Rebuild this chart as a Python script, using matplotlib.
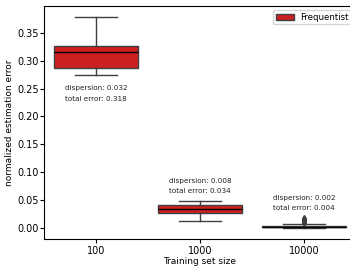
import matplotlib.pyplot as plt
from matplotlib.patches import Patch

# training set sizes and box statistics
sizes = ['100', '1000', '10000']
q1 = [0.287, 0.0275, 0.001]
med = [0.315, 0.034, 0.002]
q3 = [0.327, 0.0407, 0.004]
whislo = [0.274, 0.0125, 0.0003]
whishi = [0.379, 0.048, 0.0078]
fliers = [[], [], [0.009, 0.0105, 0.012, 0.0135, 0.015, 0.0165, 0.018]]
dispersion = [0.032, 0.008, 0.002]
total_error = [0.318, 0.034, 0.004]
text_y = [0.251, 0.085, 0.054]

red = '#cd2121'
edge = '#3f3f3f'

stats = []
for i in range(len(sizes)):
    stats.append(dict(q1=q1[i], med=med[i], q3=q3[i], whislo=whislo[i],
                      whishi=whishi[i], fliers=fliers[i], label=sizes[i]))

fig = plt.figure(figsize=(3.5, 2.69), dpi=100)
ax = fig.add_axes([0.126, 0.1115, 0.891, 0.8665])
ax.bxp(stats, positions=range(len(sizes)), widths=0.8, patch_artist=True,
       boxprops=dict(facecolor=red, edgecolor=edge, linewidth=1),
       medianprops=dict(color='black', linewidth=1),
       whiskerprops=dict(color=edge, linewidth=1),
       capprops=dict(color=edge, linewidth=1),
       flierprops=dict(marker='d', markersize=3, markerfacecolor=edge,
                       markeredgecolor=edge))

for i in range(len(sizes)):
    ax.text(i, text_y[i], 'dispersion: %.3f' % dispersion[i],
            ha='center', va='center', fontsize=5.2, color='#222222')
    ax.text(i, text_y[i] - 0.019, 'total error: %.3f' % total_error[i],
            ha='center', va='center', fontsize=5.2, color='#222222')

ax.set_xlim(-0.5, 2.5)
ax.set_ylim(-0.0197, 0.398)
ax.set_yticks([0.0, 0.05, 0.10, 0.15, 0.20, 0.25, 0.30, 0.35])
ax.set_yticklabels(['%.2f' % v for v in ax.get_yticks()])
ax.tick_params(labelsize=7, length=3, width=0.8, pad=1)
ax.tick_params(axis='x', pad=2)
ax.set_xlabel('Training set size', fontsize=6.5, labelpad=1)
ax.set_ylabel('normalized estimation error', fontsize=6.5, labelpad=2)

ax.legend(handles=[Patch(facecolor=red, edgecolor=edge, label='Frequentist')],
          loc='upper right', fontsize=6.2, handlelength=2.1, borderpad=0.3)

fig.savefig('out.png', dpi=100)
